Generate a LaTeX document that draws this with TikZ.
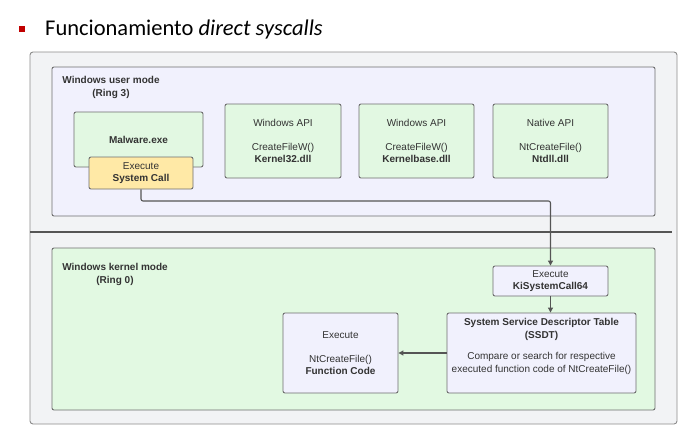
\documentclass[tikz,border=0pt]{standalone}
\usepackage{fontspec}
\setmainfont{Liberation Sans}
\newfontfamily\titlefont{Carlito}
\usetikzlibrary{arrows.meta}
\definecolor{outerfill}{HTML}{F2F3F5}
\definecolor{outerdraw}{HTML}{8C8C8C}
\definecolor{userfill}{HTML}{F1F1FD}
\definecolor{kernfill}{HTML}{E2F9E2}
\definecolor{greenbox}{HTML}{E2F8E2}
\definecolor{yellowbox}{HTML}{FFE9A6}
\definecolor{lavbox}{HTML}{F1F1FD}
\definecolor{edge}{HTML}{6E6E6E}
\definecolor{txt}{HTML}{333333}
\definecolor{wire}{HTML}{555555}
\definecolor{bullet}{HTML}{C00000}
\tikzset{
  x=1pt, y=-1pt,
  region/.style={draw=edge, line width=0.9pt, rounded corners=2pt},
  box/.style={draw=edge, line width=0.9pt, rounded corners=2pt, inner sep=0pt,
    align=center, text=txt, font=\fontsize{10}{12}\selectfont},
  lbl/.style={align=center, text=txt, font=\bfseries\fontsize{10}{12.5}\selectfont, inner sep=0pt},
  wirestyle/.style={draw=wire, line width=1.1pt, rounded corners=2pt,
    -{Triangle[length=5pt,width=5pt]}},
}
\begin{document}
\begin{tikzpicture}
\useasboundingbox (0,0) rectangle (689,434);
\fill[white] (0,0) rectangle (689,434);
% title
\fill[bullet] (19,26) rectangle (25,32);
\node[anchor=base west, inner sep=0pt, font=\titlefont\fontsize{22.5}{26}\selectfont] (title) at (45,35.5) {Funcionamiento \textit{direct syscalls}};
% outer frame
\draw[draw=outerdraw, fill=outerfill, line width=0.9pt, rounded corners=3pt] (30,52) rectangle (677,424);
% user mode
\draw[region, fill=userfill] (52,67) rectangle (655,216);
\node[lbl] (userlbl) at (111,87.5) {Windows user mode\\(Ring 3)};
% separator
\draw[draw=wire, line width=2pt] (30,232) -- (672,232);
% kernel mode
\draw[region, fill=kernfill] (52,248) rectangle (655,410);
\node[lbl] (kernlbl) at (115,274.5) {Windows kernel mode\\(Ring 0)};
% user boxes
\node[box, fill=greenbox, minimum width=129pt, minimum height=55pt] (malware) at (138.5,139.5) {\textbf{Malware.exe}};
\node[box, fill=yellowbox, minimum width=104pt, minimum height=32pt] (sys) at (141,173) {Execute\\\textbf{System Call}};
\node[box, fill=greenbox, minimum width=116pt, minimum height=74pt] (k32) at (283,141) {Windows API\\[12pt]CreateFileW()\\\textbf{Kernel32.dll}};
\node[box, fill=greenbox, minimum width=115pt, minimum height=74pt] (kb) at (416.5,141) {Windows API\\[12pt]CreateFileW()\\\textbf{Kernelbase.dll}};
\node[box, fill=greenbox, minimum width=115pt, minimum height=74pt] (nt) at (550.5,141) {Native API\\[12pt]NtCreateFile()\\\textbf{Ntdll.dll}};
% kernel boxes
\node[box, fill=lavbox, minimum width=115pt, minimum height=30pt] (ki) at (550.5,281) {Execute\\\textbf{KiSystemCall64}};
\node[box, fill=lavbox, minimum width=189pt, minimum height=80pt] (ssdt) at (541.5,353) {};
\node[align=center, text=txt, font=\fontsize{10}{13}\selectfont, inner sep=0pt] (ssdttext) at (541.5,346.5)
  {\textbf{System Service Descriptor Table}\\\textbf{(SSDT)}\\[8pt]Compare or search for respective\\executed function code of NtCreateFile()};
\node[box, fill=lavbox, minimum width=115pt, minimum height=80pt] (func) at (340.5,353) {Execute\\[12pt]NtCreateFile()\\\textbf{Function Code}};
% connectors
\coordinate (bend) at (550.5,201);
\draw[wirestyle] (sys.south) |- (bend) -- (ki.north);
\draw[wirestyle] (ki.south) -- (ki.south |- ssdt.north);
\draw[wirestyle] (ssdt.west) -- (func.east);
\end{tikzpicture}
\end{document}
